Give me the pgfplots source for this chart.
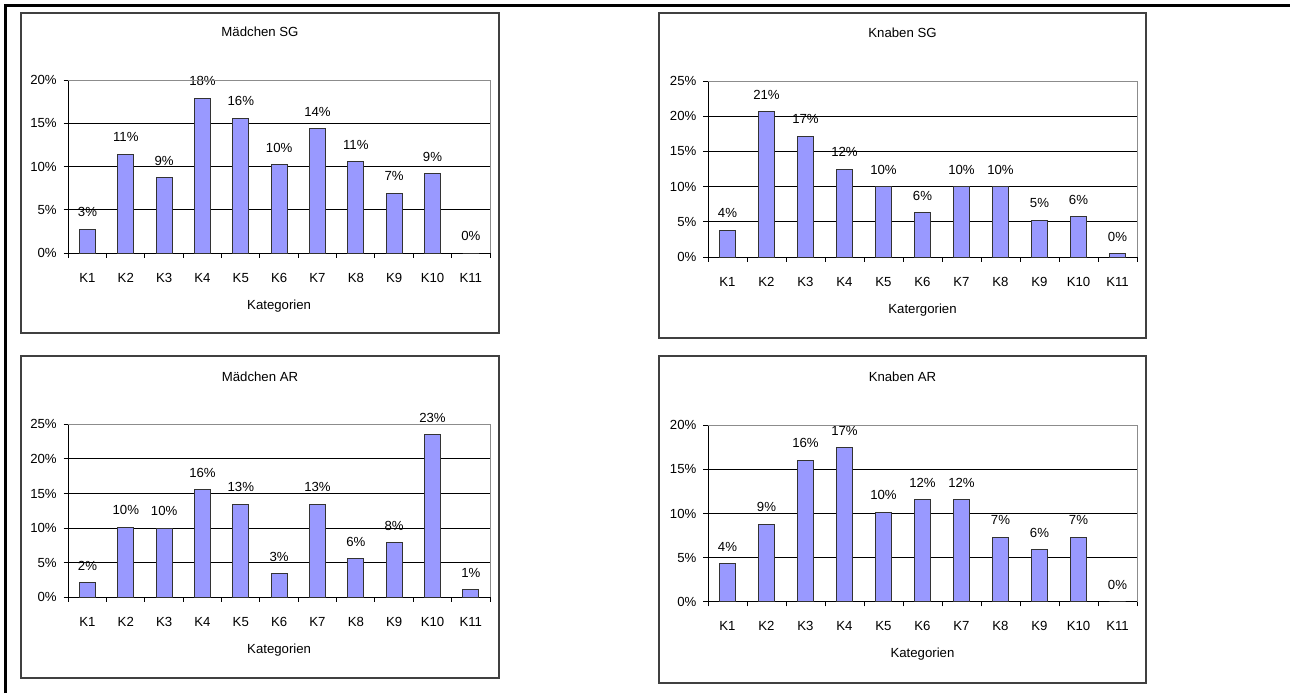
\documentclass[border=0pt]{standalone}
\usepackage{fontspec}
\setmainfont{Liberation Sans}
\usepackage{pgfplots}
\usepackage{pgfplotstable}
\pgfplotsset{compat=1.18}

\definecolor{barfill}{HTML}{9999FF}
\definecolor{plotframe}{HTML}{8C8C8C}
\newcommand\fs{\fontsize{6.6}{7.9}\selectfont}

% Anteile in Prozent, Kategorien K1..K11
\pgfplotstableread{
k val
1 2.77
2 11.46
3 8.73
4 17.88
5 15.6
6 10.2
7 14.35
8 10.58
9 6.92
10 9.19
11 0
}\maedchenSG

\pgfplotstableread{
k val
1 3.77
2 20.6
3 17.12
4 12.45
5 9.95
6 6.27
7 9.95
8 9.95
9 5.24
10 5.71
11 0.45
}\knabenSG

\pgfplotstableread{
k val
1 2.12
2 10.07
3 10.0
4 15.56
5 13.44
6 3.42
7 13.44
8 5.54
9 7.9
10 23.46
11 1.1
}\maedchenAR

\pgfplotstableread{
k val
1 4.31
2 8.77
3 16.03
4 17.47
5 10.17
6 11.57
7 11.57
8 7.3
9 5.9
10 7.3
11 0
}\knabenAR

\pgfplotsset{
  panel/.style={
    scale only axis,
    anchor=south west,
    clip=false,
    ybar, bar width=8pt,
    xmin=0.5, xmax=11.5, ymin=0,
    xtick={0.5,1.5,...,11.5},
    x tick label as interval,
    xticklabels={K1,K2,K3,K4,K5,K6,K7,K8,K9,K10,K11},
    ytick distance=5,
    yticklabel={\pgfmathprintnumber{\tick}\%},
    /pgf/number format/assume math mode=true,
    axis x line*=bottom, axis y line*=left,
    axis line style={black, line width=0.5pt},
    tick align=outside,
    major tick length=2.3pt,
    tick style={black, line width=0.5pt},
    tick label style={font=\fs},
    xticklabel style={inner sep=0pt, anchor=north, yshift=-7.5pt},
    yticklabel style={inner sep=0pt, anchor=east, xshift=-3.3pt},
    xlabel={Kategorien},
    xlabel style={font=\fs, inner sep=0pt, at={(axis description cs:0.5,0)}, anchor=center, yshift=-26.4pt},
    ymajorgrids,
    grid style={black, line width=0.5pt},
    point meta=y,
    nodes near coords={\pgfmathprintnumber[fixed,precision=0]{\pgfplotspointmeta}\%},
    nodes near coords style={font=\fs, inner sep=0pt, anchor=south, yshift=6pt},
    after end axis/.code={\draw[plotframe, line width=0.5pt] (rel axis cs:0,1) -- (rel axis cs:1,1) -- (rel axis cs:1,0);},
  },
  bars/.style={draw=black!80, line width=0.5pt, fill=barfill},
}

\begin{document}
\begin{tikzpicture}
\useasboundingbox (0,0) rectangle (645pt,346.5pt);

% aeusserer Rahmen
\draw[line width=1.5pt] (2.5pt,0pt) -- (2.5pt,343.75pt) -- (645pt,343.75pt);

% Rahmen der vier Diagramme
\draw[line width=0.6pt, black!75] (10.5pt,180pt) rectangle (249.5pt,340pt);
\draw[line width=0.6pt, black!75] (329.5pt,177.5pt) rectangle (573pt,340pt);
\draw[line width=0.6pt, black!75] (10.5pt,7.5pt) rectangle (249.5pt,168.5pt);
\draw[line width=0.6pt, black!75] (329.5pt,5pt) rectangle (573pt,168.5pt);

\node[font=\fs] at (130pt,330.5pt) {Mädchen SG};
\node[font=\fs] at (451.25pt,330pt) {Knaben SG};
\node[font=\fs] at (130pt,158.2pt) {Mädchen AR};
\node[font=\fs] at (451.25pt,158.2pt) {Knaben AR};

\begin{axis}[panel, at={(34.15pt,219.85pt)}, width=210.85pt, height=86.65pt, ymax=20]
\addplot[bars] table[x=k, y=val] {\maedchenSG};
\end{axis}

\begin{axis}[panel, at={(354pt,218pt)}, width=214.5pt, height=88pt, ymax=25, xlabel={Katergorien}]
\addplot[bars] table[x=k, y=val] {\knabenSG};
\end{axis}

\begin{axis}[panel, at={(34.15pt,47.85pt)}, width=210.85pt, height=86.5pt, ymax=25]
\addplot[bars] table[x=k, y=val] {\maedchenAR};
\end{axis}

\begin{axis}[panel, at={(354pt,45.65pt)}, width=214.5pt, height=88.2pt, ymax=20]
\addplot[bars] table[x=k, y=val] {\knabenAR};
\end{axis}
\end{tikzpicture}
\end{document}
